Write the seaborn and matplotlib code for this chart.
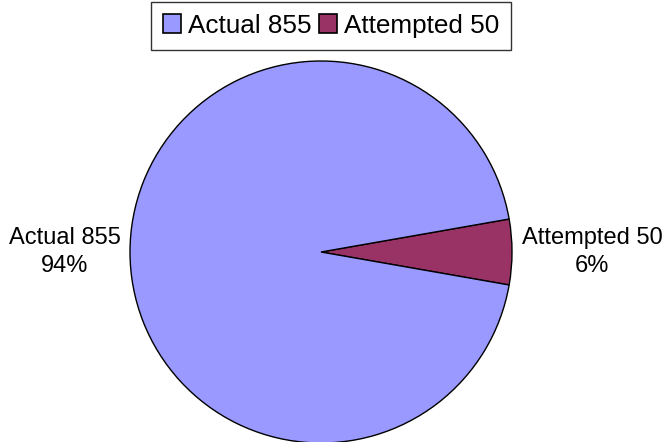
import numpy as np
import matplotlib
matplotlib.use("Agg")
import matplotlib.pyplot as plt
import seaborn as sns

categories = ["Actual 855", "Attempted 50"]
values = [855, 50]
colors = ["#9999FF", "#993366"]

sns.set_style("white")
plt.rcParams['font.family'] = ['Liberation Sans', 'DejaVu Sans']
plt.rcParams['text.color'] = 'black'

W, H = 665, 442
fig = plt.figure(figsize=(W/100, H/100), dpi=100)
cx, cy, r = 321, 252, 191
ax = fig.add_axes([(cx - r)/W, 1 - (cy + r)/H, 2*r/W, 2*r/H])

total = sum(values)
# order so that "Attempted" is centered on the right
order = [1, 0]
vals = [values[i] for i in order]
cols = [colors[i] for i in order]
labs = [categories[i] for i in order]
start = -360 * values[1] / total / 2
wedges, _ = ax.pie(vals, colors=cols, startangle=start, counterclock=True,
                   wedgeprops=dict(edgecolor="black", linewidth=1.0), radius=1.0)
ax.set_xlim(-1, 1)
ax.set_ylim(-1, 1)
ax.set_aspect("auto")
ax.axis("off")

for w, lab, v in zip(wedges, labs, vals):
    mid = np.deg2rad((w.theta1 + w.theta2) / 2)
    d = 1.05
    x, y = d*np.cos(mid), d*np.sin(mid)
    ha = "left" if x > 0 else "right"
    ax.text(x, y, f"{lab}\n{round(100*v/total)}%", color="black",
            ha=ha, va="center", multialignment="center", fontsize=17,
            linespacing=1.4, clip_on=False)

handles = [plt.Rectangle((0, 0), 1, 1, facecolor=c, edgecolor="black", linewidth=1.2) for c in colors]
leg = fig.legend(handles, categories, loc="upper center", bbox_to_anchor=(331/W, 1 - 2/H),
                 ncol=2, frameon=True, fancybox=False, fontsize=18.8, handlelength=0.7,
                 handleheight=0.7, handletextpad=0.25, columnspacing=0.3, borderpad=0.45,
                 borderaxespad=0)
for t in leg.get_texts():
    t.set_color("black")
leg.get_frame().set_edgecolor("black")
leg.get_frame().set_linewidth(1.0)

fig.savefig("out.png", dpi=100)
